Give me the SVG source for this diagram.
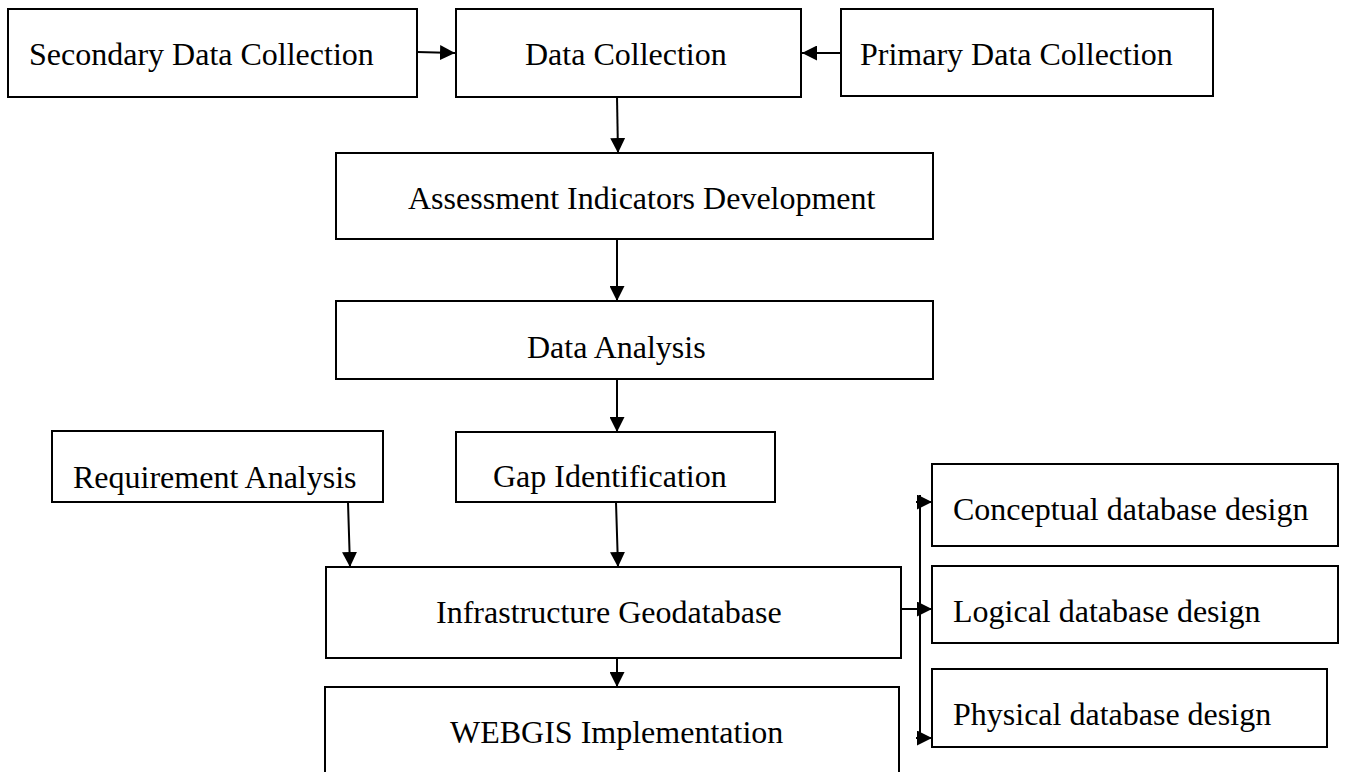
<svg xmlns="http://www.w3.org/2000/svg" width="1346" height="772" viewBox="0 0 1346 772">
<style>
.box{fill:#fff;stroke:#000;stroke-width:2}
.lbl{font-family:"Liberation Serif","Times New Roman",serif;font-size:32px;fill:#000}
.con{fill:none;stroke:#000;stroke-width:2}
</style>
<defs>
<marker id="ah" markerUnits="userSpaceOnUse" markerWidth="16" markerHeight="15" refX="15" refY="7.5" orient="auto">
<path d="M0,0 L15,7.5 L0,15 z" fill="#000"/>
</marker>
</defs>
<rect width="1346" height="772" fill="#fff"/>
<g id="connectors">
<path class="con" d="M417,52 L455,53" marker-end="url(#ah)"/>
<path class="con" d="M840,53 L802,53" marker-end="url(#ah)"/>
<path class="con" d="M617,97 L618,153" marker-end="url(#ah)"/>
<path class="con" d="M617,239 L617,301" marker-end="url(#ah)"/>
<path class="con" d="M617,379 L617,432" marker-end="url(#ah)"/>
<path class="con" d="M348,502 L350,567" marker-end="url(#ah)"/>
<path class="con" d="M616,502 L618,567" marker-end="url(#ah)"/>
<path class="con" d="M617,658 L617,687" marker-end="url(#ah)"/>
<path class="con" d="M920,495 L920,742"/>
<path class="con" d="M916,502 L932,502" marker-end="url(#ah)"/>
<path class="con" d="M901,609 L932,609" marker-end="url(#ah)"/>
<path class="con" d="M916,738 L932,738" marker-end="url(#ah)"/>
</g>
<g id="secondary">
<rect class="box" x="8" y="9" width="409" height="88"/>
<text class="lbl" x="29" y="65">Secondary Data Collection</text>
</g>
<g id="data-collection">
<rect class="box" x="456" y="9" width="345" height="88"/>
<text class="lbl" x="525" y="65">Data Collection</text>
</g>
<g id="primary">
<rect class="box" x="841" y="9" width="372" height="87"/>
<text class="lbl" x="860" y="65">Primary Data Collection</text>
</g>
<g id="assessment">
<rect class="box" x="336" y="153" width="597" height="86"/>
<text class="lbl" x="408" y="209">Assessment Indicators Development</text>
</g>
<g id="data-analysis">
<rect class="box" x="336" y="301" width="597" height="78"/>
<text class="lbl" x="527" y="358">Data Analysis</text>
</g>
<g id="requirement">
<rect class="box" x="52" y="431" width="331" height="71"/>
<text class="lbl" x="73" y="488">Requirement Analysis</text>
</g>
<g id="gap">
<rect class="box" x="456" y="432" width="319" height="70"/>
<text class="lbl" x="493" y="487">Gap Identification</text>
</g>
<g id="infrastructure">
<rect class="box" x="326" y="567" width="575" height="91"/>
<text class="lbl" x="436" y="623">Infrastructure Geodatabase</text>
</g>
<g id="webgis">
<rect class="box" x="325" y="687" width="574" height="100"/>
<text class="lbl" x="450" y="743">WEBGIS Implementation</text>
</g>
<g id="conceptual">
<rect class="box" x="932" y="464" width="406" height="82"/>
<text class="lbl" x="953" y="520">Conceptual database design</text>
</g>
<g id="logical">
<rect class="box" x="932" y="566" width="406" height="77"/>
<text class="lbl" x="953" y="622">Logical database design</text>
</g>
<g id="physical">
<rect class="box" x="932" y="669" width="395" height="78"/>
<text class="lbl" x="953" y="725">Physical database design</text>
</g>
</svg>
